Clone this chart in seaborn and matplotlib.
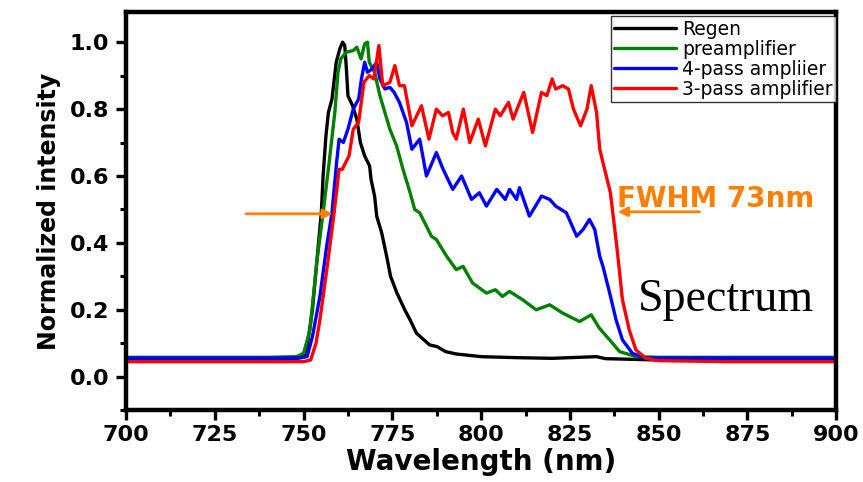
import matplotlib
matplotlib.use("Agg")
import matplotlib.pyplot as plt
import seaborn as sns
import pandas as pd
from matplotlib.ticker import MultipleLocator

# Spectra (wavelength nm, normalized intensity)
regen_x = [700, 720, 740, 748, 750, 751, 752.5, 753.7, 755, 755.5, 756.3, 757.0, 758.0, 759.2,
           760.2, 761.0, 761.6, 762.0, 762.5, 763.8, 765.0, 766.0, 767.2, 768.6, 769.0, 770.0,
           770.6, 772.0, 773.4, 774.5, 776.3, 778.5, 780, 781.8, 785.5, 787.6, 790, 793, 800,
           810, 820, 832.5, 835, 850, 870, 900]
regen_y = [0.052, 0.054, 0.052, 0.055, 0.06, 0.09, 0.2, 0.34, 0.49, 0.6, 0.72, 0.79, 0.83, 0.94,
           0.98, 1.0, 0.99, 0.93, 0.84, 0.81, 0.77, 0.70, 0.66, 0.63, 0.59, 0.54,
           0.48, 0.43, 0.36, 0.30, 0.25, 0.20, 0.17, 0.13, 0.095, 0.09, 0.075, 0.068, 0.06,
           0.057, 0.055, 0.06, 0.054, 0.05, 0.05, 0.048]

pre_x = [700, 720, 740, 748, 750, 751.8, 753.7, 755.5, 757.2, 758.8, 759.7, 760.5, 762, 764,
         765, 766.2, 767.2, 768, 768.5, 770, 771.5, 772.9, 774.3, 776.2, 778, 780, 781.3,
         782.7, 784.6, 786, 787.4, 790.3, 793, 794.9, 797.6, 801.5, 804, 806, 808, 811.7,
         815.5, 819.3, 823, 827.7, 831, 833.3, 836.2, 839, 843.7, 850, 870, 900]
pre_y = [0.058, 0.058, 0.058, 0.06, 0.07, 0.14, 0.34, 0.49, 0.64, 0.79, 0.91, 0.95, 0.97, 0.975,
         0.985, 0.95, 0.995, 1.0, 0.94, 0.91, 0.84, 0.79, 0.74, 0.69, 0.62, 0.55, 0.50,
         0.49, 0.45, 0.42, 0.41, 0.36, 0.32, 0.33, 0.28, 0.25, 0.26, 0.24, 0.255, 0.23,
         0.20, 0.215, 0.19, 0.165, 0.185, 0.145, 0.11, 0.075, 0.06, 0.058, 0.058, 0.058]

four_x = [700, 720, 740, 749, 751, 752.5, 754.6, 756.5, 758, 759.3, 760, 761.2, 762.5, 764,
          765.5, 766.3, 767.2, 768, 769.3, 770.6, 771.5, 772.9, 774.3, 775.5, 777, 779, 780.5,
          782.7, 784.6, 787.4, 789.3, 792, 794.5, 797.3, 799.5, 801.5, 804.4, 806.8, 808, 810,
          810.8, 813.6, 817, 819.3, 821, 824, 826.9, 828.7, 830.5, 832, 833.4, 834.3, 836.2,
          838, 839.8, 842.6, 846, 860, 900]
four_y = [0.056, 0.056, 0.056, 0.056, 0.06, 0.12, 0.24, 0.39, 0.49, 0.64, 0.71, 0.70, 0.74, 0.80,
          0.83, 0.89, 0.94, 0.91, 0.92, 0.94, 0.89, 0.86, 0.865, 0.85, 0.82, 0.76, 0.68,
          0.71, 0.60, 0.67, 0.62, 0.56, 0.60, 0.53, 0.55, 0.51, 0.56, 0.53, 0.56, 0.53,
          0.565, 0.48, 0.54, 0.53, 0.51, 0.49, 0.42, 0.44, 0.47, 0.44, 0.36, 0.33, 0.25,
          0.17, 0.11, 0.07, 0.056, 0.056, 0.056]

three_x = [700, 720, 740, 750, 752, 753.5, 754.6, 756.8, 758.6, 760, 760.9, 762.8, 764, 765.5,
           767, 768.5, 769.8, 771.2, 772.3, 774.3, 775.7, 777, 778.4, 780.5, 783.2, 785.3,
           787.4, 789.1, 790.8, 792, 793, 795, 796.8, 799.2, 801.2, 804, 805.4, 807.7, 809,
           812, 814.5, 817, 818.5, 820, 821, 823, 824.6, 826, 828, 829.8, 831, 832.5, 833.4,
           835, 836.4, 837.3, 838.3, 839.8, 841.7, 843.6, 846.4, 850, 870, 900]
three_y = [0.045, 0.045, 0.045, 0.045, 0.05, 0.1, 0.17, 0.34, 0.49, 0.62, 0.62, 0.66, 0.74, 0.76,
           0.88, 0.90, 0.89, 0.99, 0.87, 0.88, 0.93, 0.87, 0.87, 0.75, 0.81, 0.71,
           0.80, 0.78, 0.79, 0.73, 0.71, 0.80, 0.70, 0.77, 0.69, 0.80, 0.78, 0.82, 0.77,
           0.85, 0.73, 0.85, 0.84, 0.89, 0.86, 0.87, 0.86, 0.80, 0.75, 0.80, 0.87, 0.79, 0.68,
           0.61, 0.55, 0.47, 0.38, 0.23, 0.14, 0.08, 0.055, 0.048, 0.045, 0.045]

series_names = ["Regen", "preamplifier", "4-pass ampliier", "3-pass amplifier"]
series_colors = ["#000000", "#008000", "#0000ff", "#ff0000"]

sns.set_style("ticks")
plt.rcParams["font.family"] = ["DejaVu Sans"]
plt.rcParams["text.color"] = "black"
plt.rcParams["axes.labelcolor"] = "black"
plt.rcParams["xtick.color"] = "black"
plt.rcParams["ytick.color"] = "black"

frames = []
for name, xs, ys in zip(series_names, [regen_x, pre_x, four_x, three_x],
                        [regen_y, pre_y, four_y, three_y]):
    frames.append(pd.DataFrame({"wavelength": xs, "intensity": ys, "series": name}))
df = pd.concat(frames, ignore_index=True)

fig = plt.figure(figsize=(8.63, 4.82), dpi=100)
ax = fig.add_axes([0.146, 0.149, 0.823, 0.826])

sns.lineplot(data=df, x="wavelength", y="intensity", hue="series",
             hue_order=series_names, palette=dict(zip(series_names, series_colors)),
             estimator=None, linewidth=2.4, ax=ax)

ax.set_xlim(700, 900)
ax.set_ylim(-0.1, 1.09)
ax.xaxis.set_major_locator(MultipleLocator(25))
ax.xaxis.set_minor_locator(MultipleLocator(12.5))
ax.yaxis.set_major_locator(MultipleLocator(0.2))
ax.yaxis.set_minor_locator(MultipleLocator(0.1))
ax.set_yticks([0.0, 0.2, 0.4, 0.6, 0.8, 1.0])
ax.set_yticklabels(["0.0", "0.2", "0.4", "0.6", "0.8", "1.0"])

for s in ax.spines.values():
    s.set_linewidth(3.2)
    s.set_color("black")
ax.tick_params(axis="both", which="major", direction="out", length=7, width=2.4,
               labelsize=16, color="black", labelcolor="black")
ax.tick_params(axis="both", which="minor", direction="out", length=4, width=2.2, color="black")
ax.tick_params(axis="x", which="major", pad=4)
ax.tick_params(axis="y", which="major", pad=5)
for lbl in ax.get_xticklabels() + ax.get_yticklabels():
    lbl.set_fontweight("bold")

ax.set_xlabel("Wavelength (nm)", fontsize=20, fontweight="bold", labelpad=2, color="black")
ax.set_ylabel("Normalized intensity", fontsize=17, fontweight="bold", labelpad=6, color="black")

handles, labels = ax.get_legend_handles_labels()
leg = ax.legend(handles, labels, loc="upper right", bbox_to_anchor=(1.0, 0.99),
                borderaxespad=0, fontsize=13.5, frameon=True, fancybox=False,
                labelspacing=0.05, handlelength=3.3, handletextpad=0.3, borderpad=0.2)
leg.get_frame().set_edgecolor("black")
leg.get_frame().set_linewidth(1.0)
for text in leg.get_texts():
    text.set_color("black")
for line in leg.get_lines():
    line.set_linewidth(2.4)

orange = "#ff8000"
ax.annotate("", xy=(759, 0.487), xytext=(733, 0.487),
            arrowprops=dict(arrowstyle="-|>", color=orange, lw=2, mutation_scale=14))
ax.annotate("", xy=(837.7, 0.493), xytext=(862.3, 0.493),
            arrowprops=dict(arrowstyle="-|>", color=orange, lw=2, mutation_scale=14))
ax.text(838.2, 0.508, "FWHM 73nm", color=orange, fontsize=20, fontweight="bold",
        ha="left", va="baseline")
ax.text(844, 0.197, "Spectrum", fontsize=33, family="Liberation Serif",
        ha="left", va="baseline", color="black")

plt.savefig("out.png", dpi=100)
